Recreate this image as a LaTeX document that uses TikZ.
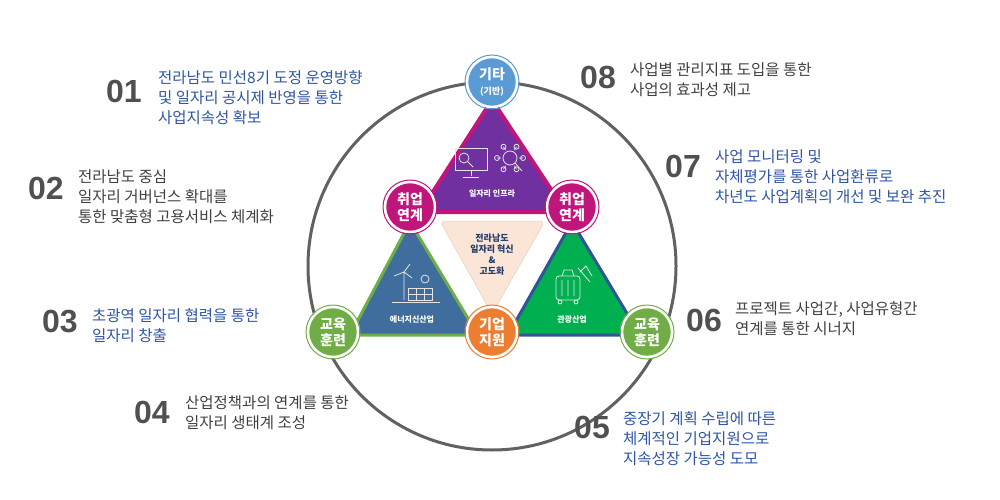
\documentclass[tikz,border=0pt]{standalone}
\usepackage{fontspec}
\usetikzlibrary{calc}
\setmainfont{Liberation Sans}
\newfontfamily\kr{Noto Sans CJK KR}
\begin{document}
\begin{tikzpicture}[x=1pt,y=-1pt,
  num/.style={font=\fontsize{32}{32}\selectfont\bfseries, text=numgray, anchor=center},
  desc/.style={font=\kr\fontsize{15.5}{20}\selectfont, anchor=north west, align=left, inner sep=0pt},
  bd/.style={desc, text=txtblue},
  gd/.style={desc, text=txtgray},
  badge/.style={circle, minimum size=50pt, inner sep=0pt, draw=white, line width=2.5pt, text=white,
     font=\kr\fontsize{14}{16}\selectfont\bfseries, align=center},
  icon/.style={draw=white!80!gray, line width=0.8pt},
  lbl/.style={font=\kr\fontsize{8}{9}\selectfont\bfseries, text=white}]
\definecolor{numgray}{HTML}{505050}
\definecolor{txtblue}{HTML}{2F55A4}
\definecolor{txtgray}{HTML}{404040}
\definecolor{cblue}{HTML}{5B9BD5}
\definecolor{cmag}{HTML}{C0157B}
\definecolor{cgreen}{HTML}{70AD47}
\definecolor{corange}{HTML}{ED7D31}
\definecolor{cpurple}{HTML}{7030A0}
\definecolor{csteel}{HTML}{3F6E9E}
\definecolor{cemer}{HTML}{00B050}
\definecolor{cnavy}{HTML}{2F5597}
\definecolor{cpeach}{HTML}{FBE5D6}
\useasboundingbox (0,0) rectangle (1000,500);

\node[draw=numgray!90, line width=3pt, circle, minimum size=368pt] (ring) at (492,266) {};

% triangles
\draw[fill=cpurple, draw=cmag, line width=4pt, line join=round] (492,100) -- (420,212) -- (566,212) -- cycle;
\draw[fill=csteel, draw=cgreen, line width=3pt, line join=round] (410,222) -- (350,335) -- (478,335) -- cycle;
\draw[fill=cemer, draw=cnavy, line width=3pt, line join=round] (572,222) -- (508,335) -- (640,335) -- cycle;
\draw[fill=cpeach, draw=cpeach!80!gray, line width=0.5pt, rounded corners=6pt] (440,221) -- (545,221) -- (492,314) -- cycle;

\node[font=\kr\fontsize{9}{11}\selectfont\bfseries, text=cnavy!70!black, align=center] (core) at (492,255) {전라남도\\일자리 혁신\\\&\\고도화};

% icons (simplified)
\draw[icon] (455,148) rectangle (487,170); \draw[icon] (471,170) -- (471,176) (463,177) -- (479,177);
\draw[icon] (464,158) circle (5); \draw[icon] (468,162) -- (473,167);
\draw[icon] (510,158) circle (7); \draw[icon] (515,163) -- (522,171);
\foreach \a in {0,60,...,300} \draw[icon] ($(510,158)+(\a:9)$) -- ($(510,158)+(\a:13)$) circle (2.5);
\node[lbl] (l1) at (492,194) {일자리 인프라};

\draw[icon] (404,272) -- (404,300) (404,272) -- (394,276) (404,272) -- (410,264) (404,272) -- (412,278);
\draw[icon] (408,288) rectangle (432,300) (416,288)--(416,300) (424,288)--(424,300) (408,294)--(432,294);
\draw[icon] (425,279) circle (4);
\draw[icon] (392,302) -- (440,302);
\node[lbl] (l2) at (412,320) {에너지신산업};

\draw[icon, rounded corners=3pt] (556,276) rectangle (580,300);
\draw[icon] (562,280)--(562,296) (568,280)--(568,296) (574,280)--(574,296) (562,276)--(564,270)--(572,270)--(574,276);
\draw[icon] (560,302) circle (2) (576,302) circle (2);
\draw[icon] (578,268) -- (590,282) (580,272) -- (586,266) -- (592,276);
\node[lbl] (l3) at (572,320) {관광산업};

% badges
\node[badge, fill=cblue] (top) at (492,82) {기타\\[-1pt]{\fontsize{9}{10}\selectfont (기반)}};
\node[badge, fill=cmag] (jl) at (410,207) {취업\\연계};
\node[badge, fill=cmag] (jr) at (572,207) {취업\\연계};
\node[badge, fill=cgreen] (el) at (333,332) {교육\\훈련};
\node[badge, fill=corange] (ec) at (492,332) {기업\\지원};
\node[badge, fill=cgreen] (er) at (647,332) {교육\\훈련};
\foreach \n/\c in {top/cblue, jl/cmag, jr/cmag, el/cgreen, ec/corange, er/cgreen}
  \draw[\c, line width=1pt] (\n) circle (27pt);

% texts
\node[num] (n1) at (124,91) {01};
\node[bd] (t1) at (158,70) {전라남도 민선8기 도정 운영방향\\및 일자리 공시제 반영을 통한\\사업지속성 확보};
\node[num] (n2) at (46,188) {02};
\node[gd] (t2) at (78,169) {전라남도 중심\\일자리 거버넌스 확대를\\통한 맞춤형 고용서비스 체계화};
\node[num] (n3) at (60,322) {03};
\node[bd] (t3) at (92,308) {초광역 일자리 협력을 통한\\일자리 창출};
\node[num] (n4) at (152,412) {04};
\node[gd] (t4) at (185,395) {산업정책과의 연계를 통한\\일자리 생태계 조성};
\node[num] (n5) at (592,427) {05};
\node[bd] (t5) at (623,411) {중장기 계획 수립에 따른\\체계적인 기업지원으로\\지속성장 가능성 도모};
\node[num] (n6) at (704,320) {06};
\node[gd] (t6) at (735,301) {프로젝트 사업간, 사업유형간\\연계를 통한 시너지};
\node[num] (n7) at (683,166) {07};
\node[bd] (t7) at (715,149) {사업 모니터링 및\\자체평가를 통한 사업환류로\\차년도 사업계획의 개선 및 보완 추진};
\node[num] (n8) at (598,77) {08};
\node[gd] (t8) at (630,62) {사업별 관리지표 도입을 통한\\사업의 효과성 제고};
\end{tikzpicture}
\end{document}
